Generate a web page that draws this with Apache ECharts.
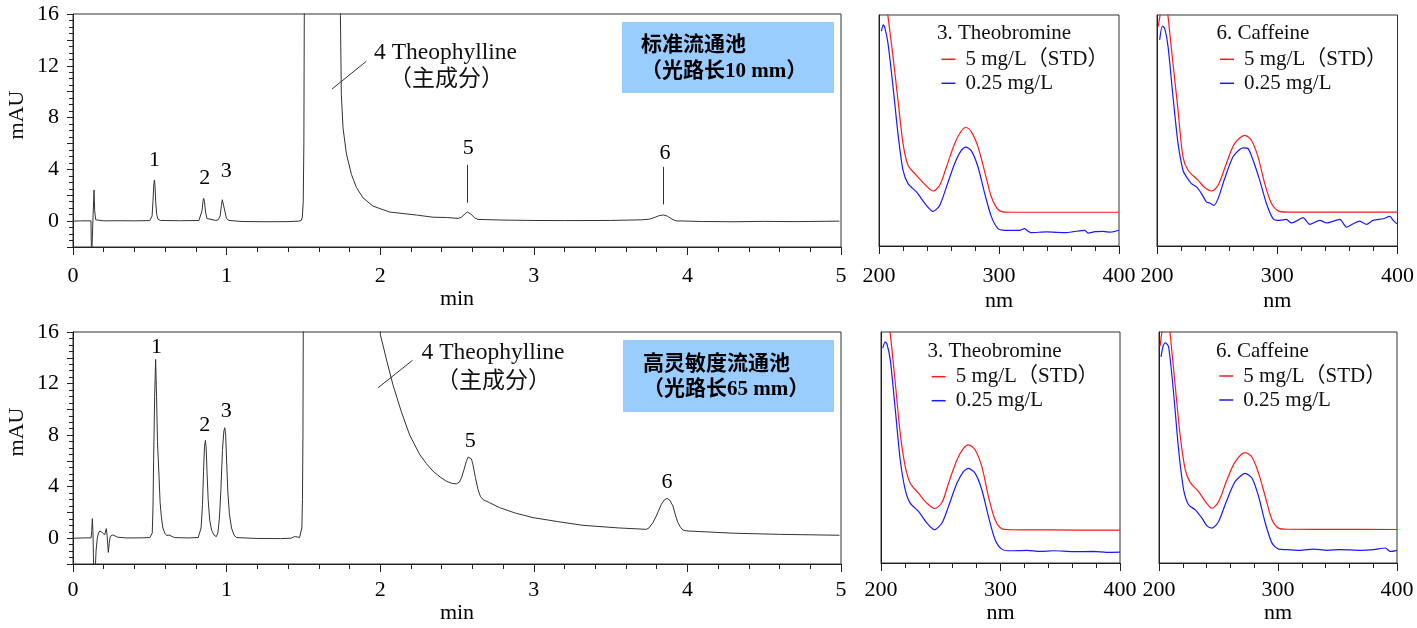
<!DOCTYPE html>
<html>
<head>
<meta charset="utf-8">
<title>chromatogram</title>
<script src="https://cdn.jsdelivr.net/npm/echarts@6/dist/echarts.min.js"></script>
<style>
  html, body { margin: 0; padding: 0; background: #fff; }
  #main { width: 1417px; height: 628px; }
</style>
</head>
<body>
<div id="main"></div>
<script>
// chromatogram, standard flow cell (10 mm) — [min, mAU]
var chromStd = [
  [0,0],[0.05,0.02],[0.117,0.02],[0.121,-3],[0.127,-3],[0.131,0.5],[0.137,2.4],[0.141,0.8],[0.148,0.1],[0.2,0.02],[0.3,0.03],[0.4,0.02],[0.5,0.04],
  [0.508,0.1],[0.515,0.4],[0.521,1.6],[0.526,2.8],[0.53,3.18],[0.534,2.7],[0.539,1.4],[0.545,0.5],[0.553,0.15],[0.57,0.05],
  [0.7,0.03],[0.82,0.05],
  [0.832,0.2],[0.84,0.8],[0.846,1.5],[0.851,1.76],[0.856,1.5],[0.863,0.7],[0.872,0.2],[0.885,0.05],[0.93,0.05],
  [0.945,0.1],[0.958,0.4],[0.966,1.2],[0.972,1.65],[0.977,1.76],[0.982,1.5],[0.99,0.7],[0.999,0.2],[1.015,0.05],
  [1.1,-0.03],[1.25,-0.05],[1.4,-0.04],[1.47,0],[1.486,0.05],[1.493,0.3],[1.499,1.5],[1.503,6],[1.507,20],
  [1.738,20],[1.741,15.9],[1.747,9.8],[1.758,7.2],[1.78,5.2],[1.813,3.6],[1.845,2.6],[1.888,1.8],[1.953,1.16],[2.062,0.7],[2.236,0.47],[2.344,0.3],[2.431,0.28],[2.507,0.21],
  [2.53,0.3],[2.55,0.55],[2.568,0.7],[2.59,0.55],[2.615,0.25],[2.637,0.13],
  [2.8,0.08],[2.995,0.05],[3.2,0.04],[3.5,0.05],[3.7,0.1],[3.754,0.15],
  [3.79,0.3],[3.82,0.44],[3.846,0.47],[3.87,0.38],[3.9,0.15],[3.928,0.02],
  [4.1,-0.03],[4.297,-0.05],[4.5,-0.02],[4.7,-0.04],[4.99,0]
];

// chromatogram, high sensitivity flow cell (65 mm)
var chromHigh = [
  [0,0],[0.06,0.02],[0.118,0.03],[0.122,0.6],[0.126,1.52],[0.13,0.5],[0.134,-2],[0.138,-4],[0.143,-3],[0.15,-1],[0.158,0],[0.166,0.4],[0.174,0.56],
  [0.191,0.45],[0.206,0.26],[0.212,0.4],[0.217,0.75],[0.222,0.2],[0.227,-0.6],[0.23,-1.1],[0.236,-0.4],[0.243,0.15],[0.26,0.26],[0.29,0.08],[0.35,0.02],[0.45,0.03],[0.5,0.05],
  [0.51,0.15],[0.516,0.4],[0.521,2.5],[0.525,6.1],[0.532,11.2],[0.538,13.87],[0.544,11],[0.55,7.5],[0.56,4.8],[0.567,2.8],[0.575,1.7],[0.585,0.8],[0.597,0.4],[0.61,0.2],[0.625,0.25],[0.635,0.2],[0.66,0.05],
  [0.75,0.02],[0.815,0.05],
  [0.825,0.2],[0.834,0.8],[0.843,2.6],[0.85,5.2],[0.856,7.1],[0.862,7.59],[0.867,7.0],[0.873,5.0],[0.88,3.0],[0.89,1.4],[0.903,0.6],[0.918,0.25],[0.933,0.12],
  [0.943,0.4],[0.953,1.5],[0.963,3.8],[0.973,6.8],[0.982,8.3],[0.988,8.57],[0.994,8.0],[1.0,6.0],[1.008,3.6],[1.018,1.9],[1.032,0.8],[1.048,0.25],[1.065,0.05],
  [1.2,-0.02],[1.35,-0.03],[1.42,0],[1.44,0.12],[1.46,0.1],[1.475,0.05],[1.485,0.2],[1.49,0.8],[1.494,3],[1.497,8],[1.5,20],
  [1.998,20],[2.001,15.8],[2.04,13.9],[2.083,11.9],[2.138,9.8],[2.192,8.0],[2.257,6.5],[2.3,5.8],[2.344,5.2],[2.39,4.75],[2.431,4.42],[2.47,4.25],[2.496,4.22],[2.515,4.35],[2.529,4.68],[2.545,5.3],[2.561,5.97],[2.573,6.3],[2.583,6.35],[2.594,6.15],[2.604,5.7],[2.62,4.7],
  [2.637,3.78],[2.652,3.25],[2.669,3.0],[2.713,2.75],[2.778,2.37],[2.88,1.95],[2.995,1.6],[3.15,1.3],[3.32,1.0],[3.55,0.8],[3.732,0.69],
  [3.75,0.8],[3.775,1.2],[3.797,1.72],[3.815,2.2],[3.83,2.62],[3.85,2.98],[3.868,3.09],[3.885,2.95],[3.906,2.5],[3.922,1.8],[3.938,1.21],[3.955,0.85],[3.97,0.64],[3.992,0.57],[4.297,0.39],[4.6,0.3],[4.99,0.23]
];

// peak numbers [min, mAU, text]
var peakLabelsStd = [[0.53,4.7,'1'],[0.857,3.3,'2'],[0.997,3.88,'3'],[2.574,5.62,'5'],[3.854,5.23,'6']];
var peakLabelsHigh = [[0.543,14.79,'1'],[0.857,8.77,'2'],[0.997,9.85,'3'],[2.586,7.54,'5'],[3.867,4.36,'6']];

// leader lines [[x1,y1],[x2,y2]]
var leadersStd = [[[2.568,4.34],[2.568,1.42]],[[3.846,4.19],[3.846,1.29]],[[1.686,10.2],[1.91,12.35]]];
var leadersHigh = [[[1.986,11.67],[2.21,13.8]]];

// UV spectra [nm, relative absorbance]
var theoStdTop = [[205,110],[207.5,99.3],[211.7,81.9],[215.8,63.2],[220,44.4],[224.2,35.0],[231.2,30.6],[239.5,26.0],[245,23.8],[250.6,26.3],[256.2,34.2],[263.1,44.4],[268.7,49.9],[272.3,51.3],[277,49.4],[282.5,42.9],[288.1,32.1],[293.7,21.2],[299.2,15.8],[304.8,14.7],[320,14.6],[360,14.6],[400,14.6]];
var theoLowTop = [[202,93],[203.5,95.7],[205,94.2],[207.5,87.7],[211.7,68.9],[215.8,48.7],[220,32.8],[224.2,27.0],[231.2,23.4],[239.5,17.6],[245,15.0],[250.6,17.6],[256.2,25.6],[263.1,35.7],[268.7,41.5],[272.3,42.8],[277,41.2],[282.5,34.2],[288.1,22.7],[293.7,12.6],[299.2,7.5],[304.8,6.8],[317,6.8],[321.4,7.5],[324,6.5],[327,5.8],[339.5,6.1],[348,5.9],[356.1,5.8],[362,6.2],[371.4,6.8],[374.2,5.6],[380,6.2],[386.7,6.3],[393,6.0],[400,6.8]];
var cafStdTop = [[201,95],[203,101],[207,110],[209.2,99.3],[213.3,79.0],[217.5,58.8],[221.6,38.6],[225.8,32.8],[234.1,28.5],[239.7,25.3],[245.3,23.8],[250.8,26.3],[257.7,35.7],[264.6,44.4],[273,47.9],[278.5,45.8],[284,38.6],[289.6,27.0],[295.2,18.4],[300.7,15.2],[307.7,14.7],[340,14.7],[400,14.7]];
var cafLowTop = [[202.2,89.2],[204.5,95.2],[206.4,94.2],[209.2,86.3],[213.3,64.6],[217.5,44.4],[221.6,32.8],[224.5,29.9],[228.6,27.0],[232.8,25.6],[237,22.7],[241.1,19.1],[243.8,18.6],[247.2,17.6],[250.8,20.5],[256.3,29.2],[263.2,38.6],[268.8,41.8],[272,42.5],[275.7,42.2],[279.9,37.1],[285.4,28.5],[291,18.4],[296.5,11.9],[302,11.1],[307.6,11.5],[311.8,10],[315.9,10.8],[321.5,12.3],[327,9.4],[335.4,11.1],[341,10],[352,11.5],[357.6,8.2],[363.1,9.6],[368.6,10.8],[374.2,9.4],[379.7,11.1],[388,11.8],[393.6,12.8],[396.4,11.1],[399.5,9.6]];
var theoStdBot = [[206,105],[207.8,99],[212,77.7],[216.1,56.1],[220.3,41.7],[224.5,34.5],[231.4,30.2],[238.4,25.9],[244.8,23.6],[251,26.2],[256.5,34.5],[263.5,44.6],[269,49.6],[273.2,51.1],[278.8,48.9],[284.4,41.7],[289.9,28.8],[295.5,18.7],[301.1,14.8],[308.1,14.4],[340,14.3],[400,14.2]];
var theoLowBot = [[201.5,93],[203.5,95.7],[205,94.8],[207.8,87.8],[212,66.2],[216.1,44.6],[220.3,31.7],[224.5,25.9],[231.4,22.3],[238.4,17.3],[244.8,14.4],[251,17.3],[256.5,24.5],[263.5,34.5],[269,39.6],[273.2,41.0],[278.8,38.8],[284.4,31.7],[289.9,20.1],[295.5,10.1],[301.1,6.0],[308.1,5.3],[322,5.5],[333.2,5.0],[344.3,5.3],[361,4.9],[377.7,5.0],[388.8,4.6],[400,4.7]];
var cafStdBot = [[201,94],[203,101],[207.5,106],[209.5,98.6],[213.7,76.3],[217.9,54.7],[222.1,40.3],[226.3,34.8],[233.3,30.9],[239,26.6],[244.5,23.7],[250.1,26.6],[257.1,36],[264.1,43.9],[272.5,47.8],[278.2,45.8],[283.7,38.8],[289.3,28.8],[295,18.7],[300.5,15.1],[307.6,14.6],[350,14.55],[400,14.5]];
var cafLowBot = [[201.7,89.2],[203.5,94],[205.3,95.3],[208.1,93.5],[212.3,73.4],[216.5,48.9],[220.7,31.7],[224.9,25.2],[230.5,23],[236.1,19.4],[240.3,16.1],[244.5,15.1],[250.1,18],[257.1,27.3],[264.1,35.3],[272.5,38.8],[278.2,36.7],[283.7,28.8],[289.3,17.3],[295,8.6],[300.5,6],[307.6,5.8],[318.7,5.5],[329.9,6],[341.2,5.5],[352.4,5.8],[369.2,5.5],[380.4,5.8],[390.2,6.5],[394.4,5],[400,5.5]];

var nameStd = '5 mg/L（STD）';
var nameLow = '0.25 mg/L';

var SERIF = "'Liberation Serif','Noto Sans CJK SC',serif";
var INK = '#222';

function chromX(gi, margin, gap) {
  return {
    type: 'value', gridIndex: gi, min: 0, max: 5, interval: 1,
    axisLine: { onZero: false, lineStyle: { color: INK } },
    axisTick: { length: 8, lineStyle: { color: INK } },
    minorTick: { show: true, splitNumber: 5, length: 5, lineStyle: { color: INK } },
    splitLine: { show: false },
    axisLabel: { fontSize: 22, fontFamily: SERIF, color: '#000', margin: margin, showMinLabel: true, showMaxLabel: true },
    name: 'min', nameLocation: 'middle', nameGap: gap,
    nameTextStyle: { fontSize: 22, fontFamily: SERIF, color: '#000' }
  };
}
function chromY(gi) {
  return {
    type: 'value', gridIndex: gi, min: -2, max: 16, interval: 2,
    axisLine: { show: true, onZero: false, lineStyle: { color: INK } },
    axisTick: { show: true, length: 6, lineStyle: { color: INK } },
    minorTick: { show: true, splitNumber: 4, length: 4, lineStyle: { color: INK } },
    splitLine: { show: false },
    axisLabel: {
      fontSize: 22, fontFamily: SERIF, color: '#000', margin: 14,
      formatter: function (v) { return v % 4 === 0 ? v : ''; }
    }
  };
}
function specX(gi, margin, gap) {
  return {
    type: 'value', gridIndex: gi, min: 200, max: 400, interval: 100,
    axisLine: { onZero: false, lineStyle: { color: INK } },
    axisTick: { length: 8, lineStyle: { color: INK } },
    minorTick: { show: true, splitNumber: 5, length: 5, lineStyle: { color: INK } },
    splitLine: { show: false },
    axisLabel: { fontSize: 22, fontFamily: SERIF, color: '#000', margin: margin, showMinLabel: true, showMaxLabel: true },
    name: 'nm', nameLocation: 'middle', nameGap: gap,
    nameTextStyle: { fontSize: 22, fontFamily: SERIF, color: '#000' }
  };
}
function specY(gi) {
  return {
    type: 'value', gridIndex: gi, min: 0, max: 100,
    axisLine: { show: true, onZero: false, lineStyle: { color: INK } },
    axisTick: { show: false }, axisLabel: { show: false }, splitLine: { show: false }
  };
}
function chromSeries(gi, data, labels, leaders) {
  return [{
    type: 'line', xAxisIndex: gi, yAxisIndex: gi, data: data,
    showSymbol: false, clip: true,
    lineStyle: { color: '#333', width: 1 },
    markLine: {
      silent: true, symbol: 'none', label: { show: false },
      lineStyle: { color: '#333', width: 1, type: 'solid' },
      data: leaders.map(function (l) { return [{ coord: l[0] }, { coord: l[1] }]; })
    }
  }, {
    type: 'scatter', xAxisIndex: gi, yAxisIndex: gi, data: labels,
    symbolSize: 1, itemStyle: { color: '#fff' }, silent: true,
    label: {
      show: true, position: 'inside', fontSize: 22, fontFamily: SERIF, color: '#000',
      textBorderWidth: 0, opacity: 1,
      formatter: function (p) { return p.value[2]; }
    },
    labelLayout: { hideOverlap: false }
  }];
}
function specSeries(gi, std, low) {
  return [{
    name: nameStd, type: 'line', xAxisIndex: gi, yAxisIndex: gi, data: std,
    showSymbol: false, clip: true, smooth: 0.3, color: '#ff1a1a',
    lineStyle: { color: '#ff1a1a', width: 1.2 }
  }, {
    name: nameLow, type: 'line', xAxisIndex: gi, yAxisIndex: gi, data: low,
    showSymbol: false, clip: true, smooth: 0.25, color: '#1a1aff',
    lineStyle: { color: '#1a1aff', width: 1.2 }
  }];
}
function specLegend(left, top) {
  return {
    orient: 'vertical', left: left, top: top, padding: 0, itemGap: 0,
    itemWidth: 14, itemHeight: 1.5, icon: 'rect',
    data: [nameStd, nameLow],
    textStyle: { fontSize: 21, lineHeight: 24, fontFamily: SERIF, color: '#111', padding: [0, 0, 0, 5] }
  };
}
function txt(x, y, s, size, extra) {
  var st = { text: s, x: 0, y: 0, fontSize: size, fontFamily: SERIF, fill: '#111', textAlign: 'left', textVerticalAlign: 'middle' };
  if (extra) for (var k in extra) st[k] = extra[k];
  return { type: 'text', x: x, y: y, silent: true, style: st };
}

var chart = echarts.init(document.getElementById('main'));
var yName = function (y) {
  var t = txt(17, y, 'mAU', 22, { textAlign: 'center' });
  t.rotation = Math.PI / 2;
  return t;
};
chart.setOption({
  animation: false,
  backgroundColor: '#fff',
  grid: [
    { left: 73, top: 14, width: 768, height: 233 },
    { left: 73, top: 332, width: 768, height: 232 },
    { left: 879, top: 15, width: 240, height: 231 },
    { left: 1157, top: 15, width: 241, height: 231 },
    { left: 881, top: 332, width: 239, height: 231 },
    { left: 1159, top: 332, width: 238, height: 231 }
  ].map(function (g) { g.show = true; g.borderColor = '#333'; g.borderWidth = 1; g.containLabel = false; return g; }),
  xAxis: [chromX(0, 18, 35), chromX(1, 15, 32), specX(2, 19, 44), specX(3, 19, 44), specX(4, 16, 36), specX(5, 16, 36)],
  yAxis: [chromY(0), chromY(1), specY(2), specY(3), specY(4), specY(5)],
  legend: [specLegend(941.5, 47.3), specLegend(1220, 47.3), specLegend(931.7, 364.7), specLegend(1219.3, 364)],
  series: [].concat(
    chromSeries(0, chromStd, peakLabelsStd, leadersStd),
    chromSeries(1, chromHigh, peakLabelsHigh, leadersHigh),
    specSeries(2, theoStdTop, theoLowTop),
    specSeries(3, cafStdTop, cafLowTop),
    specSeries(4, theoStdBot, theoLowBot),
    specSeries(5, cafStdBot, cafLowBot)
  ),
  graphic: [
    yName(115),
    yName(432),
    txt(374, 53, '4 Theophylline', 23.5),
    txt(389, 80, '（主成分）', 23),
    txt(421.5, 353, '4 Theophylline', 23.5),
    txt(436, 382, '（主成分）', 23),
    { type: 'rect', shape: { x: 622, y: 22, width: 212, height: 71 }, style: { fill: '#99ccff' }, silent: true },
    { type: 'rect', shape: { x: 623, y: 340, width: 211, height: 72 }, style: { fill: '#99ccff' }, silent: true },
    txt(641, 46, '标准流通池', 21, { fontWeight: 'bold', fill: '#000' }),
    txt(641, 72, '（光路长10 mm）', 21, { fontWeight: 'bold', fill: '#000' }),
    txt(643, 365, '高灵敏度流通池', 21, { fontWeight: 'bold', fill: '#000' }),
    txt(643, 390, '（光路长65 mm）', 21, { fontWeight: 'bold', fill: '#000' }),
    txt(937, 33, '3. Theobromine', 21),
    txt(1216.5, 33, '6. Caffeine', 21),
    txt(927.5, 351, '3. Theobromine', 21),
    txt(1216, 351, '6. Caffeine', 21)
  ]
});
</script>
</body>
</html>
